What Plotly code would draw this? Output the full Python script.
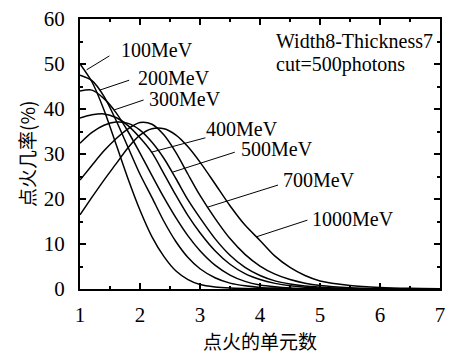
import plotly.graph_objects as go

# ---- data ----
x_units = [1.0, 1.2, 1.4, 1.6, 1.8, 2.0, 2.2, 2.4, 2.6, 2.8, 3.0, 3.25, 3.5, 3.75,
           4.0, 4.25, 4.5, 4.75, 5.0, 5.5, 6.0, 6.5, 7.0]

energies = ["100MeV", "200MeV", "300MeV", "400MeV", "500MeV", "700MeV", "1000MeV"]

p100 = [50.0, 46.0, 39.8, 32.2, 24.5, 17.5, 11.6, 7.2, 4.0, 2.1, 1.0, 0.45, 0.2, 0.1,
        0.05, 0.03, 0.02, 0.01, 0.0, 0.0, 0.0, 0.0, 0.0]
p200 = [47.5, 46.3, 42.8, 37.5, 31.5, 25.5, 20.3, 15.0, 10.5, 7.0, 4.5, 2.5, 1.3, 0.7,
        0.35, 0.2, 0.1, 0.06, 0.03, 0.01, 0.0, 0.0, 0.0]
p300 = [44.0, 44.2, 42.3, 39.2, 35.0, 30.2, 25.2, 20.3, 15.8, 11.8, 8.5, 5.3, 3.1, 1.7,
        0.9, 0.5, 0.25, 0.13, 0.07, 0.02, 0.01, 0.0, 0.0]
p400 = [38.0, 38.7, 38.9, 38.1, 36.3, 33.6, 30.3, 25.6, 20.8, 16.3, 12.5, 8.5, 5.5, 3.4,
        2.1, 1.25, 0.7, 0.4, 0.2, 0.06, 0.02, 0.01, 0.0]
p500 = [32.4, 34.8, 36.4, 37.1, 36.8, 35.3, 32.6, 29.0, 24.5, 19.8, 15.8, 11.2, 7.5, 4.8,
        3.0, 1.8, 1.1, 0.65, 0.4, 0.13, 0.04, 0.01, 0.0]
p700 = [24.2, 27.5, 30.7, 33.4, 35.6, 37.0, 36.6, 34.2, 30.3, 25.5, 20.8, 15.7, 11.2, 7.7,
        5.1, 3.3, 2.1, 1.3, 0.8, 0.3, 0.1, 0.03, 0.01]
p1000 = [16.5, 20.4, 24.2, 27.8, 31.4, 34.2, 35.6, 35.6, 34.2, 31.6, 28.2, 23.4, 18.5, 14.2,
         10.8, 7.3, 4.8, 3.0, 1.8, 0.8, 0.35, 0.15, 0.07]

series = [p100, p200, p300, p400, p500, p700, p1000]

# label placement: (text left x, text centre y) and leader line (start x,y) -> (end x,y)
label_pos = [(1.65, 53.1), (1.93, 47.0), (2.12, 42.2), (3.06, 35.6),
             (3.65, 31.1), (4.35, 24.2), (4.84, 15.6)]
leader_from = [(1.49, 51.8), (1.82, 46.4), (2.06, 42.0), (3.09, 33.6),
               (3.58, 30.4), (4.30, 23.1), (4.79, 15.3)]
leader_to = [(1.11, 48.7), (1.33, 44.2), (1.57, 39.8), (2.19, 30.4),
             (2.55, 26.0), (3.13, 18.2), (3.94, 11.6)]

x_title = "点火的单元数"
y_title = "点火几率(%)"
note_lines = ["Width8-Thickness7", "cut=500photons"]

SERIF = "'Times New Roman', 'Liberation Serif', 'DejaVu Serif', serif"
CJK = "'Noto Sans CJK SC', sans-serif"

fig = go.Figure()
for name, vals in zip(energies, series):
    fig.add_trace(go.Scatter(x=x_units, y=vals, mode="lines", name=name,
                             line=dict(color="black", width=1.5, shape="spline", smoothing=0.8),
                             showlegend=False, cliponaxis=True))

shapes = []
annotations = []
for name, (tx, ty), (fx, fy), (ex, ey) in zip(energies, label_pos, leader_from, leader_to):
    shapes.append(dict(type="line", xref="x", yref="y", x0=fx, y0=fy, x1=ex, y1=ey,
                       line=dict(color="black", width=1)))
    annotations.append(dict(x=tx, y=ty, xref="x", yref="y", text=name, showarrow=False,
                            xanchor="left", yanchor="middle",
                            font=dict(family=SERIF, size=20, color="black")))

annotations.append(dict(x=0.5395, y=0.918, xref="paper", yref="paper", text=note_lines[0],
                        showarrow=False, xanchor="left", yanchor="middle",
                        font=dict(family=SERIF, size=20, color="black")))
annotations.append(dict(x=0.5395, y=0.830, xref="paper", yref="paper", text=note_lines[1],
                        showarrow=False, xanchor="left", yanchor="middle",
                        font=dict(family=SERIF, size=20, color="black")))
annotations.append(dict(x=0.5, y=-0.19, xref="paper", yref="paper", text=x_title,
                        showarrow=False, xanchor="center", yanchor="middle",
                        font=dict(family=CJK, size=19, color="black")))
annotations.append(dict(x=-0.15, y=0.5, xref="paper", yref="paper",
                        text=y_title,
                        showarrow=False, xanchor="center", yanchor="middle", textangle=-90,
                        font=dict(family=CJK, size=19, color="black")))

axis_common = dict(showline=True, linecolor="black", linewidth=2, mirror="ticks",
                   ticks="inside", tickcolor="black", tickwidth=1.5, ticklen=6,
                   showgrid=False, zeroline=False,
                   tickfont=dict(family=SERIF, size=21, color="black"))

fig.update_layout(
    width=450, height=353,
    margin=dict(l=80, r=5, t=19, b=64),
    paper_bgcolor="white", plot_bgcolor="white",
    shapes=shapes, annotations=annotations,
    xaxis=dict(range=[1, 7], dtick=1, tick0=1, ticklabelstandoff=6,
               ticklabeloverflow="allow",
               minor=dict(dtick=0.5, ticks="inside", ticklen=3, tickcolor="black", tickwidth=1.5),
               **axis_common),
    yaxis=dict(range=[0, 60], dtick=10, tick0=0, ticklabelstandoff=9,
               minor=dict(dtick=5, ticks="inside", ticklen=3, tickcolor="black", tickwidth=1.5),
               **axis_common),
)

fig.write_html("out.html")
